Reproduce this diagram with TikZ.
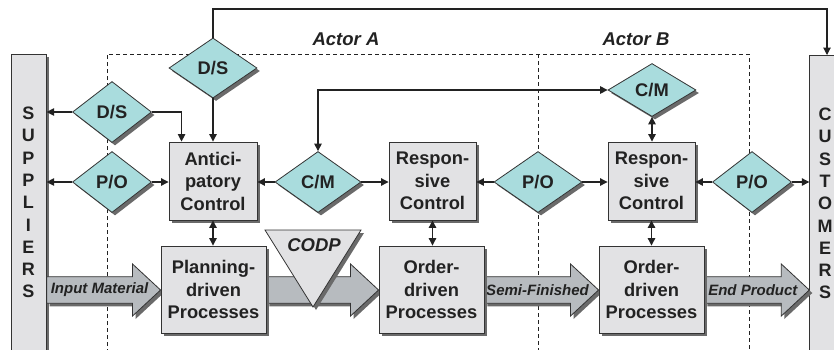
\documentclass[tikz,border=0pt]{standalone}
\usepackage{fontspec}
\setmainfont{Liberation Sans}
\usetikzlibrary{shapes.geometric,arrows.meta,calc,shadows}

\definecolor{ink}{HTML}{222222}
\definecolor{edge}{HTML}{333333}
\definecolor{boxfill}{HTML}{E2E2E4}
\definecolor{gatefill}{HTML}{A9DCDD}
\definecolor{flowfill}{HTML}{B7BBBF}
\definecolor{shade}{HTML}{6A6A6A}

\tikzset{
  lbl/.style={text=ink, font=\bfseries\fontsize{18.3bp}{22.5bp}\selectfont},
  shadowed/.style={drop shadow={shadow xshift=3bp, shadow yshift=-3bp, fill=shade, opacity=1}},
  ctrlbox/.style={lbl, shadowed, draw=edge, line width=0.9bp, fill=boxfill, align=center,
    inner sep=0pt, minimum width=88bp, minimum height=78bp},
  procbox/.style={ctrlbox, minimum width=105bp, minimum height=87bp},
  gate/.style 2 args={lbl, shadowed, shape=diamond, draw=edge, line width=0.8bp, fill=gatefill,
    inner sep=0pt, minimum width=#1, minimum height=#2},
  sidebar/.style={draw=edge, line width=0.9bp, fill=boxfill, shadowed, inner sep=0pt, anchor=north west},
  letters/.style={lbl, align=center, font=\bfseries\fontsize{18bp}{22.3bp}\selectfont},
  conn/.style={draw=ink, line width=1.1bp, -{Triangle[length=7.5bp,width=7.5bp]}},
  conn2/.style={draw=ink, line width=1.1bp, {Triangle[length=7.5bp,width=7.5bp]}-{Triangle[length=7.5bp,width=7.5bp]}},
  actorline/.style={draw=ink, line width=0.8bp, dash pattern=on 4bp off 3bp},
  flowarrow/.style={fill=flowfill, draw=edge, line width=0.8bp, shadowed},
  flowlabel/.style={text=ink, font=\bfseries\itshape\fontsize{15bp}{18bp}\selectfont, inner sep=0pt},
  actor/.style={text=ink, font=\bfseries\itshape\fontsize{18.5bp}{22bp}\selectfont, inner sep=0pt},
}

% material flow: a thick block arrow from #1 to #2 with label #3
\newcommand\flowblock[3]{%
  \path[flowarrow] let \p1=(#1), \p2=(#2) in
    (\x1,\y1+13.3bp) -- (\x2-28bp,\y1+13.3bp) -- (\x2-28bp,\y1+26bp) -- (\x2,\y1)
    -- (\x2-28bp,\y1-26bp) -- (\x2-28bp,\y1-13.3bp) -- (\x1,\y1-13.3bp) -- cycle;
  \node[flowlabel] at ($(#1)!0.5!(#2)+(-4,0)$) {#3};}

\begin{document}
\begin{tikzpicture}[x=1bp,y=-1bp]
\useasboundingbox (0,0) rectangle (834,349);
\clip (0,0) rectangle (834,349);

% actor regions
\draw[actorline] (107,360) -- (107,54) -- (749,54) -- (749,360);
\draw[actorline] (538,54) -- (538,360);
\node[actor] (actA) at (346,39) {Actor A};
\node[actor] (actB) at (636,39) {Actor B};

% suppliers and customers
\node[sidebar, minimum width=34.7bp, minimum height=310bp] (sup) at (11,54) {};
\node[sidebar, minimum width=40bp, minimum height=310bp] (cust) at (809.3,55) {};
\node[letters] (supname) at (28.3,202.5) {S\\U\\P\\P\\L\\I\\E\\R\\S};
\node[letters] (custname) at (825,203.5) {C\\U\\S\\T\\O\\M\\E\\R\\S};

% control boxes
\node[ctrlbox] (ant) at (213,181) {Antici-\\patory\\Control};
\node[ctrlbox, minimum width=87bp] (respA) at (432.5,181) {Respon-\\sive\\Control};
\node[ctrlbox, minimum width=87bp] (respB) at (651.5,181) {Respon-\\sive\\Control};

% process boxes
\node[procbox] (plan) at (213.5,289.5) {Planning-\\driven\\Processes};
\node[procbox] (ordA) at (431.5,289.5) {Order-\\driven\\Processes};
\node[procbox] (ordB) at (651.5,289.5) {Order-\\driven\\Processes};

% material flows
\coordinate (flowY) at (0,290);
\coordinate (f0a) at (sup.east |- flowY);
\coordinate (f0b) at (plan.west |- flowY);
\coordinate (f1a) at (plan.east |- flowY);
\coordinate (f1b) at (ordA.west |- flowY);
\coordinate (f2a) at (ordA.east |- flowY);
\coordinate (f2b) at (ordB.west |- flowY);
\coordinate (f3a) at (ordB.east |- flowY);
\coordinate (f3b) at (cust.west |- flowY);
\flowblock{f0a}{f0b}{Input Material}
\flowblock{f1a}{f1b}{}
\flowblock{f2a}{f2b}{Semi-Finished}
\flowblock{f3a}{f3b}{End Product}

% redraw boxes over the flow arrows
\node[procbox] at (plan) {Planning-\\driven\\Processes};
\node[procbox] at (ordA) {Order-\\driven\\Processes};
\node[procbox] at (ordB) {Order-\\driven\\Processes};

% customer order decoupling point
\filldraw[fill=boxfill, draw=edge, line width=0.8bp, shadowed] (265,230) -- (361,230) -- (313,307) -- cycle;
\node[actor] (codp) at (314,245) {CODP};

% information exchange points
\node[gate={88bp}{60bp}] (dsTop) at (213,68) {D/S};
\node[gate={79bp}{61bp}] (dsL) at (112,112) {D/S};
\node[gate={79bp}{61bp}] (poL) at (112,182) {P/O};
\node[gate={86bp}{61bp}] (cmA) at (318,182) {C/M};
\node[gate={88bp}{61bp}] (poM) at (538,182) {P/O};
\node[gate={79bp}{61bp}] (poR) at (752,182) {P/O};
\node[gate={88bp}{53bp}] (cmB) at (652,90) {C/M};

% information links
\coordinate (topY) at (0,9);
\coordinate (custX) at (827,0);
\draw[conn] (dsTop.north) |- (custX |- topY) -- (custX |- cust.north);
\draw[conn] (dsTop.south) -- (ant.north);
\draw[conn] (dsL.west) -- (sup.east |- dsL.west);
\draw[conn] (dsL.east) -| ([xshift=13bp]ant.north west);
\draw[conn] (poL.west) -- (sup.east |- poL.west);
\draw[conn] (poL.east) -- (ant.west |- poL.east);
\draw[conn] (cmA.west) -- (ant.east |- cmA.west);
\draw[conn] (cmA.east) -- (respA.west |- cmA.east);
\draw[conn] (poM.west) -- (respA.east |- poM.west);
\draw[conn] (poM.east) -- (respB.west |- poM.east);
\draw[conn] (poR.west) -- (respB.east |- poR.west);
\draw[conn] (poR.east) -- (cust.west |- poR.east);
\draw[conn2] (cmB.west) -| (cmA.north);
\draw[conn2] (cmB.south) -- (cmB.south |- respB.north);
\draw[conn2] (ant.south) -- (ant.south |- plan.north);
\draw[conn2] (respA.south) -- (respA.south |- ordA.north);
\draw[conn2] (respB.south) -- (respB.south |- ordB.north);
\end{tikzpicture}
\end{document}
